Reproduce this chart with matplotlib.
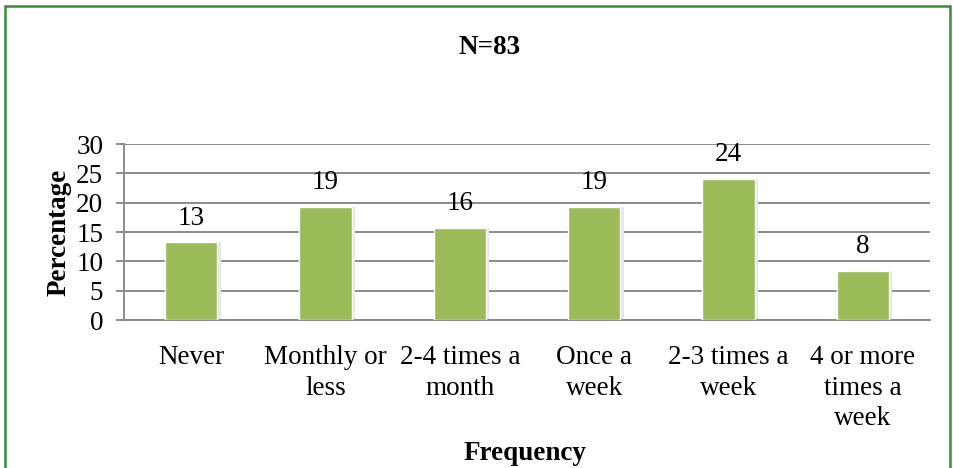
import matplotlib
matplotlib.use("Agg")
import matplotlib.pyplot as plt
from matplotlib.patches import Rectangle
import numpy as np

categories = ["Never", "Monthly or\nless", "2-4 times a\nmonth", "Once a\nweek",
              "2-3 times a\nweek", "4 or more\ntimes a\nweek"]
values = [13.3, 19.3, 15.7, 19.3, 24.1, 8.4]
labels = ["13", "19", "16", "19", "24", "8"]
yticks = [0, 5, 10, 15, 20, 25, 30]

plt.rcParams['font.family'] = ['Liberation Serif', 'DejaVu Serif']
FS = 19.5

W, H = 954, 468
fig = plt.figure(figsize=(W / 100, H / 100), dpi=100)

# green frame
fig.patches.append(Rectangle((5 / W, -0.05), 945 / W, 1.05 - 6 / H, transform=fig.transFigure,
                             fill=False, edgecolor="#3a8a3a", linewidth=1.8, zorder=0))

ax = fig.add_axes([124 / W, 1 - 320 / H, 806 / W, 176 / H])
x = np.arange(len(categories))
ax.set_xlim(-0.5, len(categories) - 0.5)
ax.set_ylim(0, 30)

# subtle shadow
ax.bar(x + 0.02, values, width=0.40, color="#e6e6e6", zorder=2)
bars = ax.bar(x, values, width=0.39, color="#9BBB59", edgecolor="white", linewidth=1.0, zorder=3)
for xi, v, lab in zip(x, values, labels):
    ax.text(xi, v + 1.95, lab, ha="center", va="bottom", fontsize=FS, color="black")

ax.set_yticks(yticks)
ax.yaxis.grid(True, color="#8c8c8c", linewidth=1.4)
ax.set_axisbelow(True)
for s in ["top", "right"]:
    ax.spines[s].set_visible(False)
ax.spines["left"].set_color("#8c8c8c")
ax.spines["left"].set_linewidth(1.4)
ax.spines["bottom"].set_color("#8c8c8c")
ax.spines["bottom"].set_linewidth(1.4)
ax.tick_params(axis="y", length=6, width=1.4, color="#8c8c8c", labelsize=FS, pad=9)
ax.tick_params(axis="x", length=0, labelsize=FS, pad=18)
ax.set_xticks(x)
ax.set_xticklabels(categories, linespacing=1.3)

ax.set_ylabel("Percentage", fontsize=FS, fontweight="bold", labelpad=3)
fig.text(525 / W, 1 - 453 / H, "Frequency", ha="center", va="center", fontsize=FS, fontweight="bold")
fig.text(490 / W, 1 - 48 / H, "N=83", ha="center", va="center", fontsize=FS, fontweight="bold")

fig.savefig("out.png", dpi=100)
